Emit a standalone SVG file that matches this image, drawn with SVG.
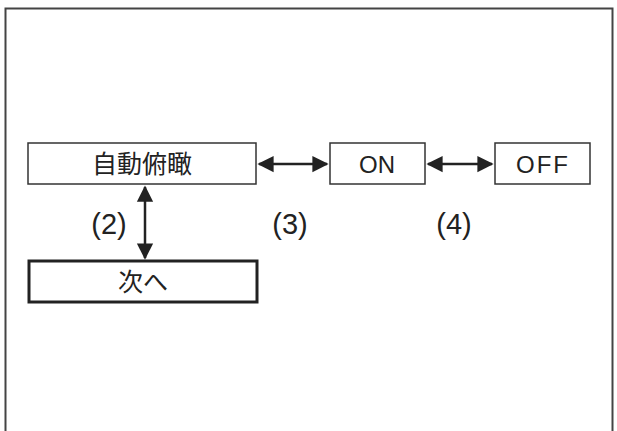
<svg xmlns="http://www.w3.org/2000/svg" width="617" height="431" viewBox="0 0 617 431">
<style>
.b{fill:#fff;stroke:#333;stroke-width:1.5}
.t{font-family:"Liberation Sans","Noto Sans CJK JP",sans-serif;fill:#222;text-anchor:middle}
.c{stroke:#222;stroke-width:2.5;fill:none;marker-start:url(#a);marker-end:url(#a)}
</style>
<defs><marker id="a" viewBox="0 0 10 10" refX="9" refY="5" markerWidth="6.5" markerHeight="7" orient="auto-start-reverse" markerUnits="strokeWidth"><path d="M0,0L10,5L0,10z" fill="#222"/></marker></defs>
<rect width="617" height="431" fill="#fff"/>
<rect x="5.5" y="8.5" width="607" height="430" fill="none" stroke="#444" stroke-width="2"/>
<g id="n1"><rect class="b" x="28" y="143" width="228" height="41"/><text class="t" x="142" y="173" font-size="25">自動俯瞰</text></g>
<g id="n2"><rect class="b" x="330" y="143" width="95" height="41"/><text class="t" x="377" y="173" font-size="24">ON</text></g>
<g id="n3"><rect class="b" x="495" y="143" width="95" height="41"/><text class="t" x="543" y="173" font-size="24" letter-spacing="2">OFF</text></g>
<g id="n4"><rect x="29" y="261" width="228" height="41" style="fill:#fff;stroke:#222;stroke-width:3"/><text class="t" x="143" y="291" font-size="25">次へ</text></g>
<g id="labels" font-size="29">
<text class="t" x="109" y="234">(2)</text>
<text class="t" x="290" y="234">(3)</text>
<text class="t" x="454" y="234">(4)</text>
</g>
<g id="connectors">
<line class="c" x1="145" y1="187" x2="145" y2="258"/>
<line class="c" x1="259" y1="164" x2="327" y2="164"/>
<line class="c" x1="428" y1="164" x2="492" y2="164"/>
</g>
</svg>
